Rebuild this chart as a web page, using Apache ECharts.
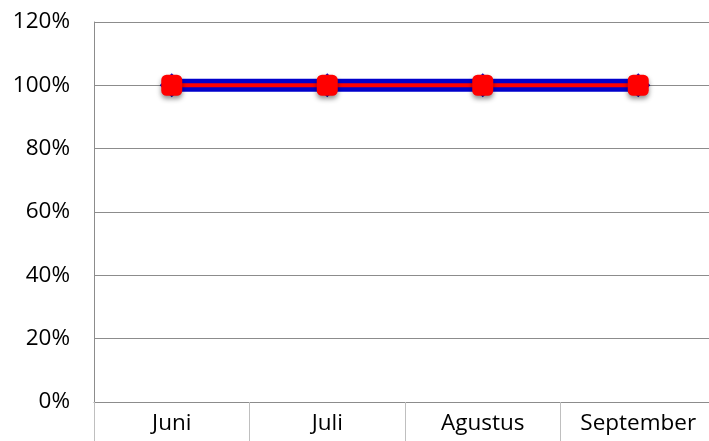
<!DOCTYPE html>
<html>
<head>
<meta charset="utf-8">
<script src="https://cdn.jsdelivr.net/npm/echarts@6/dist/echarts.min.js"></script>
<style>
  html, body { margin: 0; padding: 0; background: #fff; overflow: hidden; }
  /* a bit wider than the window: the plot area runs past the right edge */
  #main { width: 720px; height: 441px; }
</style>
</head>
<body>
<div id="main"></div>
<script>
// data
var months = ["Juni", "Juli", "Agustus", "September"];
var blueSeries = [1, 1, 1, 1];
var redSeries = [1, 1, 1, 1];

var myChart = echarts.init(document.getElementById("main"));
var gridColor = "#8c8c8c";
var fontFam = "'Open Sans', 'Liberation Sans', sans-serif";

var option = {
  animation: false,
  grid: { left: 94, top: 22, width: 622, height: 380 },
  xAxis: {
    type: "category",
    data: months,
    boundaryGap: true,
    axisLine: { show: true, lineStyle: { color: gridColor, width: 1 } },
    axisTick: { show: true, interval: 0, length: 40, lineStyle: { color: "#bfbfbf" } },
    axisLabel: { color: "#000", fontSize: 22.5, fontFamily: fontFam, margin: 10 }
  },
  yAxis: {
    type: "value",
    min: 0,
    max: 1.2,
    interval: 0.2,
    axisLine: { show: true, lineStyle: { color: gridColor, width: 1 } },
    axisTick: { show: false },
    splitLine: { lineStyle: { color: gridColor, width: 1 } },
    axisLabel: {
      color: "#000",
      fontSize: 22.5,
      fontFamily: fontFam,
      margin: 24,
      formatter: function (v) { return Math.round(v * 100) + "%"; }
    }
  },
  series: [
    {
      name: "A",
      type: "line",
      data: blueSeries,
      symbol: "diamond",
      symbolSize: 24,
      lineStyle: { color: "#0000cc", width: 13 },
      itemStyle: { color: "#0000cc" },
      z: 2
    },
    {
      name: "B",
      type: "line",
      data: redSeries,
      symbol: "roundRect",
      symbolSize: 21,
      lineStyle: { color: "#ff0000", width: 4 },
      itemStyle: {
        color: "#ff0000",
        shadowColor: "rgba(0,0,0,0.45)",
        shadowBlur: 5,
        shadowOffsetY: 3
      },
      z: 3
    }
  ]
};

myChart.setOption(option);
</script>
</body>
</html>
